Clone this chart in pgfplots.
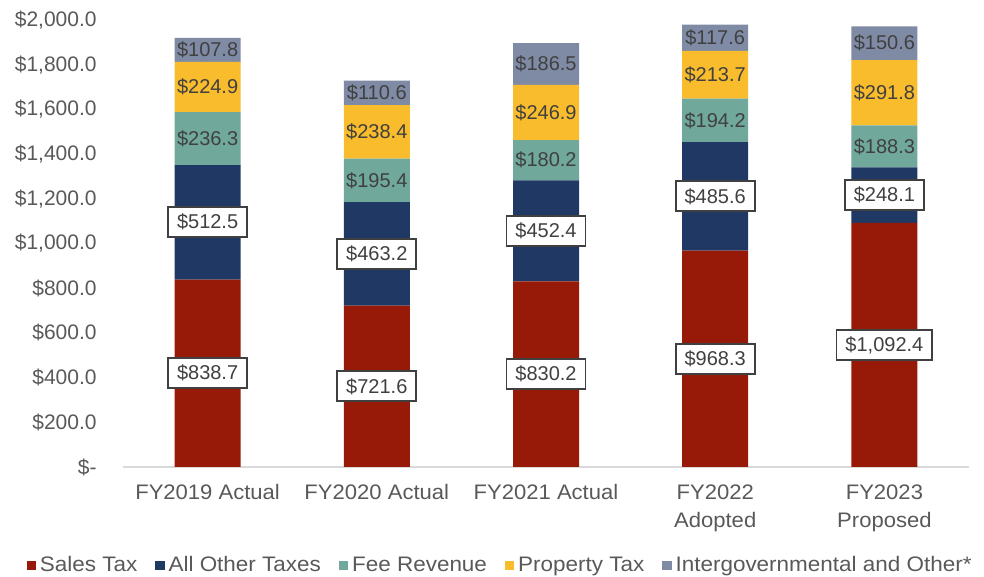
\documentclass[border=0pt]{standalone}
\usepackage{pgfplots}
\pgfplotsset{compat=1.18}
\usepackage{pgfplotstable}
\usepackage{fontspec}
\setmainfont{Liberation Sans}
\newfontfamily\legfont{Liberation Sans}[FakeStretch=1.07]
\newfontfamily\xfont{Liberation Sans}[FakeStretch=1.05]
\definecolor{cSales}{HTML}{961A07}
\definecolor{cOther}{HTML}{1F3864}
\definecolor{cFee}{HTML}{70A89C}
\definecolor{cProp}{HTML}{F8BC2C}
\definecolor{cInter}{HTML}{7F8BA5}
\definecolor{tickc}{HTML}{595959}
\definecolor{labc}{HTML}{404040}
\pgfplotstableread{
x sales other fee prop inter
0 838.7 512.5 236.3 224.9 107.8
1 721.6 463.2 195.4 238.4 110.6
2 830.2 452.4 180.2 246.9 186.5
3 968.3 485.6 194.2 213.7 117.6
4 1092.4 248.1 188.3 291.8 150.6
}\datatable
\pgfplotsset{
  seglabel/.style={
    visualization depends on={\thisrow{#1}\as\segval},
    nodes near coords={\$\pgfmathprintnumber[fixed,fixed zerofill,precision=1,1000 sep={,},assume math mode=true]{\segval}},
    every node near coord/.style={anchor=center, font=\fontsize{10}{12}\selectfont, text=labc, inner sep=0pt},
  },
  boxlabel/.style={
    visualization depends on={\thisrow{#1}\as\segval},
    nodes near coords={\$\pgfmathprintnumber[fixed,fixed zerofill,precision=1,1000 sep={,},assume math mode=true]{\segval}},
    every node near coord/.style={anchor=center, font=\fontsize{10}{12}\selectfont, text=labc,
      fill=white, draw=labc, line width=0.9pt, inner ysep=0pt, inner xsep=4.5pt, minimum height=15pt},
  },
}
\begin{document}
\begin{tikzpicture}
\path[use as bounding box] (0,0) rectangle (492pt,288.5pt);
\begin{axis}[
  at={(61.5pt,55pt)}, anchor=south west,
  scale only axis, width=423pt, height=223.5pt,
  xmin=-0.5, xmax=4.5, ymin=0, ymax=2000,
  ybar stacked, bar width=33pt,
  axis x line*=bottom, axis y line*=left,
  x axis line style={draw=black!15, line width=0.8pt, -},
  y axis line style={draw=none},
  major tick length=0pt,
  xtick={0,1,2,3,4},
  xticklabels={FY2019 Actual, FY2020 Actual, FY2021 Actual, {FY2022\\Adopted}, {FY2023\\Proposed}},
  xticklabel style={align=center, anchor=north, inner sep=0pt, yshift=-8.5pt, text=tickc, font=\xfont\fontsize{10.5}{14}\selectfont},
  ytick={0,200,400,600,800,1000,1200,1400,1600,1800,2000},
  yticklabels={{\$-\hspace{5pt}}, {\$200.0}, {\$400.0}, {\$600.0}, {\$800.0}, {\$1,000.0}, {\$1,200.0}, {\$1,400.0}, {\$1,600.0}, {\$1,800.0}, {\$2,000.0}},
  yticklabel style={anchor=east, inner sep=0pt, xshift=-13pt, text=tickc, font=\fontsize{10.5}{12}\selectfont},
  legend columns=-1,
  legend style={at={(0.447,-0.221)}, anchor=center, draw=none, fill=none, font=\legfont\fontsize{10.5}{12}\selectfont, text=tickc,
    /tikz/every even column/.append style={column sep=7pt}},
  legend image code/.code={\fill[#1] (0pt,-2.3pt) rectangle (4.6pt,2.3pt);},
  clip=false,
]
\addplot[fill=cSales, draw=none, boxlabel=sales] table[x=x, y=sales] {\datatable};
\addlegendentry{Sales Tax}
\addplot[fill=cOther, draw=none, boxlabel=other] table[x=x, y=other] {\datatable};
\addlegendentry{All Other Taxes}
\addplot[fill=cFee, draw=none, seglabel=fee] table[x=x, y=fee] {\datatable};
\addlegendentry{Fee Revenue}
\addplot[fill=cProp, draw=none, seglabel=prop] table[x=x, y=prop] {\datatable};
\addlegendentry{Property Tax}
\addplot[fill=cInter, draw=none, seglabel=inter] table[x=x, y=inter] {\datatable};
\addlegendentry{Intergovernmental and Other*}
\end{axis}
\end{tikzpicture}
\end{document}
